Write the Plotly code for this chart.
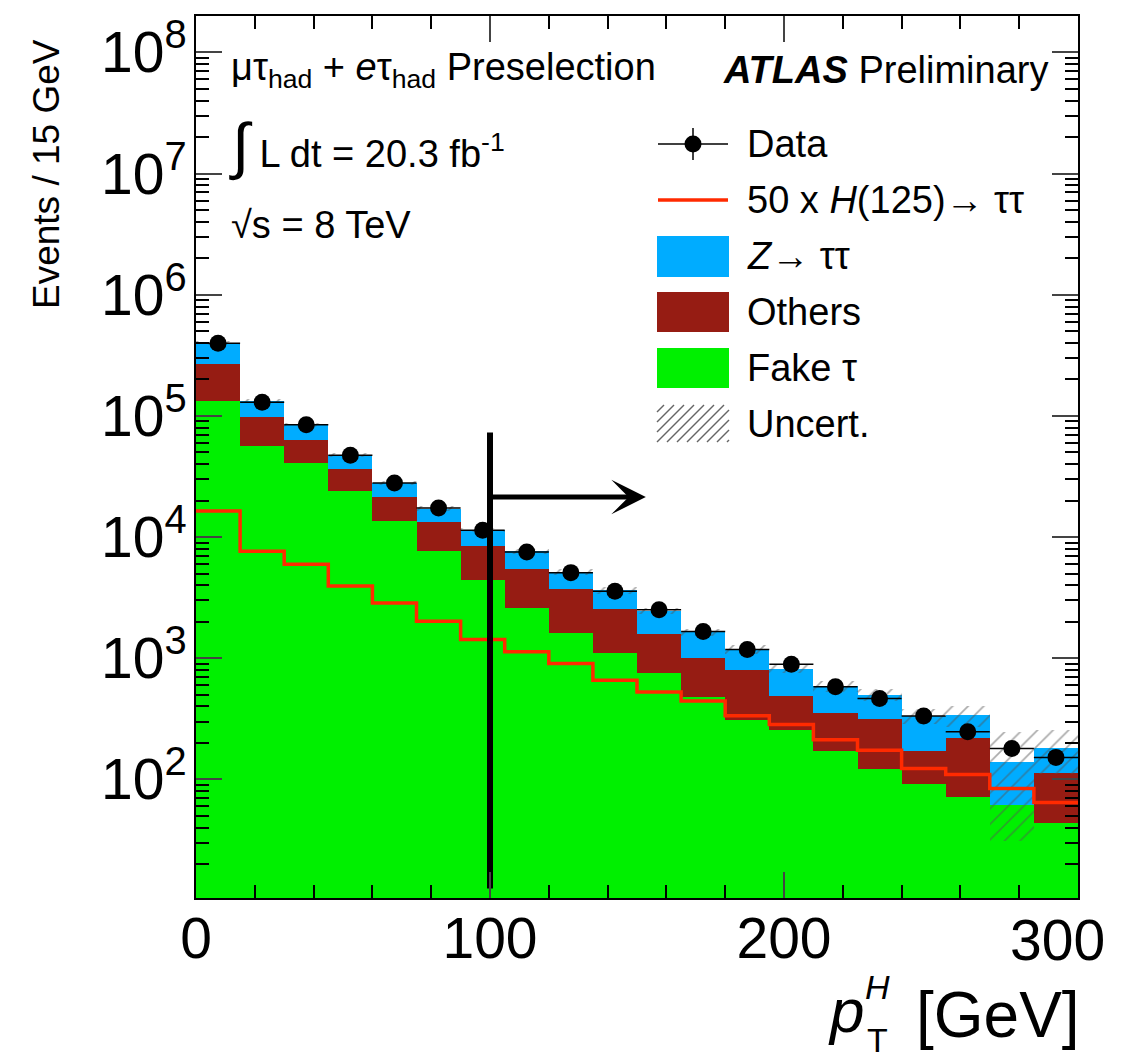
import numpy as np
import plotly.graph_objects as go

# ---------------- data ----------------
BIN_WIDTH = 15
bin_low = list(range(0, 300, BIN_WIDTH))          # 20 bins, 0..300 GeV

fake_tau = [1.33e5, 5.61e4, 4.09e4, 2.40e4, 1.35e4, 7.63e3, 4.46e3, 2.60e3, 1.62e3, 1.11e3,
            762, 480, 310, 258, 171, 123, 90.8, 71.7, 61.2, 43.3]
others = [1.37e5, 4.12e4, 2.20e4, 1.23e4, 7.9e3, 5.57e3, 4.05e3, 2.82e3, 2.14e3, 1.43e3,
          838, 520, 486, 231, 179, 191, 81, 148, 0.0, 70]
z_tautau = [1.33e5, 3.47e4, 2.18e4, 1.10e4, 6.8e3, 4.0e3, 2.89e3, 2.21e3, 1.43e3, 1.10e3,
            860, 640, 384, 333, 240, 187, 162, 119, 78, 70]
higgs_x50 = [1.64e4, 7.63e3, 5.97e3, 3.95e3, 2.86e3, 2.02e3, 1.43e3, 1.13e3, 904, 658,
             527, 444, 335, 284, 213, 174, 123, 110, 84, 64.5]
data = [3.98e5, 1.30e5, 8.47e4, 4.73e4, 2.80e4, 1.74e4, 1.14e4, 7.53e3, 5.09e3, 3.57e3,
        2.51e3, 1.66e3, 1.18e3, 892, 581, 465, 334, 247, 180, 152]
uncert = [1.6e4, 5.3e3, 3.4e3, 1.9e3, 1.1e3, 7.0e2, 4.6e2, 3.1e2, 3.1e2, 2.2e2,
          1.5e2, 1.0e2, 95, 66, 59, 60, 47, 68, 108, 72]

x_tick_vals = [0, 100, 200, 300]
x_tick_text = ["0", "100", "200", ""]      # the last label is drawn shifted inside the frame
last_x_label = "300"

cut_value = 100          # pT^H > 100 GeV selection
cut_line_y = [12.6, 7.3e4]
cut_arrow_y = 2.14e4
cut_arrow_end = 153.0

# ---------------- styling ----------------
BLUE = "#00acff"
BROWN = "#961c13"
GREEN = "#00f000"
RED = "#ff2a00"
FONT = "Liberation Sans, Arial, Helvetica, sans-serif"

x_centers = [lo + BIN_WIDTH / 2 for lo in bin_low]
edges = bin_low + [bin_low[-1] + BIN_WIDTH]
cum_others = [f + o for f, o in zip(fake_tau, others)]
total = [c + z for c, z in zip(cum_others, z_tautau)]

fig = go.Figure()
fig.add_bar(x=x_centers, y=total, width=BIN_WIDTH, marker=dict(color=BLUE, line_width=0),
            name="Z→ττ", showlegend=False)
fig.add_bar(x=x_centers, y=cum_others, width=BIN_WIDTH, marker=dict(color=BROWN, line_width=0),
            name="Others", showlegend=False)
fig.add_bar(x=x_centers, y=fake_tau, width=BIN_WIDTH, marker=dict(color=GREEN, line_width=0),
            name="Fake τ", showlegend=False)
fig.add_scatter(x=edges, y=higgs_x50 + [higgs_x50[-1]], mode="lines", line_shape="hv",
                line=dict(color=RED, width=3.5), name="50 x H(125)→ττ", showlegend=False)
fig.add_bar(x=x_centers, y=[2 * e for e in uncert], base=[t - e for t, e in zip(total, uncert)],
            width=BIN_WIDTH,
            marker=dict(color="rgba(0,0,0,0)", line_width=0,
                        pattern=dict(shape="/", fgcolor="#555555", bgcolor="rgba(0,0,0,0)",
                                     size=11, solidity=0.15)),
            name="Uncert.", showlegend=False)
fig.add_scatter(x=x_centers, y=data, mode="markers",
                marker=dict(color="black", size=17),
                error_x=dict(type="constant", value=BIN_WIDTH / 2, width=0, thickness=1.5, color="black"),
                error_y=dict(type="data", array=list(np.sqrt(data)), width=0, thickness=1.5, color="black"),
                name="Data", showlegend=False)
# cut line
fig.add_scatter(x=[cut_value, cut_value], y=cut_line_y, mode="lines",
                line=dict(color="black", width=6), showlegend=False, hoverinfo="skip")

# ---------------- layout ----------------
L, R, T, B = 196, 1078, 16, 898
W, H = 1124, 1058
PW, PH = R - L, B - T


def px(xp):
    return (xp - L) / PW


def py(yp):
    return (B - yp) / PH


minor_vals = [k * 10 ** n for n in range(1, 9) for k in range(2, 10)]

fig.update_layout(
    width=W, height=H, margin=dict(l=L, r=W - R, t=T, b=H - B),
    paper_bgcolor="white", plot_bgcolor="white",
    barmode="overlay", bargap=0,
    font=dict(family=FONT, color="black", size=38),
    showlegend=False,
    xaxis=dict(range=[0, 300], showgrid=False, zeroline=False, showline=True, linecolor="black",
               linewidth=2, mirror="ticks", ticks="inside", ticklen=26, tickwidth=2,
               automargin=False,
               tickvals=x_tick_vals, ticktext=x_tick_text,
               tickfont=dict(size=57), ticklabelstandoff=-10,
               minor=dict(ticks="inside", ticklen=13, tickwidth=1.5, dtick=20, tick0=0,
                          tickcolor="black")),
    yaxis=dict(type="log", range=[np.log10(10.5), np.log10(2.0e8)], showgrid=False, zeroline=False,
               showline=True, linecolor="black", linewidth=2, mirror="ticks", ticks="inside",
               ticklen=26, tickwidth=2, automargin=False,
               tickvals=[10 ** n for n in range(2, 9)],
               ticktext=["10<sup>%d</sup>" % n for n in range(2, 9)],
               tickfont=dict(size=57), ticklabelstandoff=-4,
               minor=dict(ticks="inside", ticklen=13, tickwidth=1.5, tickvals=minor_vals,
                          tickcolor="black")),
)

ann = []
# cut arrow (data coordinates; log axis needs log10 values)
ann.append(dict(x=cut_arrow_end, y=float(np.log10(cut_arrow_y)), ax=cut_value,
                ay=float(np.log10(cut_arrow_y)), xref="x", yref="y", axref="x", ayref="y",
                text="", showarrow=True, arrowhead=3, arrowwidth=5, arrowsize=1.15,
                arrowcolor="black"))
# last x tick label, shifted inside like the reference
ann.append(dict(x=px(1057), y=py(940), xref="paper", yref="paper", text=last_x_label,
                xanchor="center", yanchor="middle", showarrow=False, font=dict(size=57)))
# y-axis title
ann.append(dict(x=px(46), y=py(37), xref="paper", yref="paper", text="Events / 15 GeV",
                textangle=-90, xanchor="center", yanchor="top", showarrow=False,
                font=dict(size=37)))
# x-axis title
ann.append(dict(x=px(1082), y=py(1015), xref="paper", yref="paper", text="[GeV]",
                xanchor="right", yanchor="middle", showarrow=False, font=dict(size=64)))
ann.append(dict(x=px(866), y=py(1010), xref="paper", yref="paper", text="<i>p</i>",
                xanchor="right", yanchor="middle", showarrow=False, font=dict(size=62)))
ann.append(dict(x=px(863), y=py(987), xref="paper", yref="paper", text="<i>H</i>",
                xanchor="left", yanchor="middle", showarrow=False, font=dict(size=34)))
ann.append(dict(x=px(865), y=py(1040), xref="paper", yref="paper", text="T",
                xanchor="left", yanchor="middle", showarrow=False, font=dict(size=34)))

# in-plot labels
ann.append(dict(x=px(229), y=py(70), xref="paper", yref="paper",
                text="μτ<sub>had</sub> + <i>e</i>τ<sub>had</sub> Preselection",
                xanchor="left", yanchor="middle", showarrow=False))
ann.append(dict(x=px(227), y=py(146), xref="paper", yref="paper",
                text="<span style=\"font-size:62px\">∫</span> L dt = 20.3 fb<sup>-1</sup>",
                xanchor="left", yanchor="middle", showarrow=False))
ann.append(dict(x=px(229), y=py(225), xref="paper", yref="paper",
                text="√s = 8 TeV",
                xanchor="left", yanchor="middle", showarrow=False))
ann.append(dict(x=px(1050), y=py(70), xref="paper", yref="paper",
                text="<b><i>ATLAS</i></b> Preliminary",
                xanchor="right", yanchor="middle", showarrow=False))

# manual legend
LX0, LX1, TX = 657, 729, 745
leg_text = [(144, "Data"), (200, "50 x <i>H</i>(125)→ ττ"), (256, "<i>Z</i>→ ττ"),
            (312, "Others"), (368, "Fake τ"), (424, "Uncert.")]
for yy, t in leg_text:
    ann.append(dict(x=px(TX), y=py(yy), xref="paper", yref="paper", text=t,
                    xanchor="left", yanchor="middle", showarrow=False))

shapes = []
# Data entry
shapes.append(dict(type="line", xref="paper", yref="paper", x0=px(658), x1=px(728), y0=py(144), y1=py(144),
                   line=dict(color="black", width=1.5)))
shapes.append(dict(type="line", xref="paper", yref="paper", x0=px(693), x1=px(693), y0=py(128), y1=py(160),
                   line=dict(color="black", width=1.5)))
shapes.append(dict(type="circle", xref="paper", yref="paper", x0=px(684.5), x1=px(701.5),
                   y0=py(152.5), y1=py(135.5), fillcolor="black", line=dict(color="black", width=0)))
# Higgs entry
shapes.append(dict(type="line", xref="paper", yref="paper", x0=px(658), x1=px(728), y0=py(200), y1=py(200),
                   line=dict(color=RED, width=3.5)))
# boxes
for (y0, y1, c) in [(236, 277, BLUE), (292, 332, BROWN), (348, 388, GREEN)]:
    shapes.append(dict(type="rect", xref="paper", yref="paper", x0=px(LX0), x1=px(LX1),
                       y0=py(y1), y1=py(y0), fillcolor=c, line=dict(width=0)))
# hatched uncertainty entry
hy0, hy1 = 405, 442
for k in range(-4, 8):
    xa = LX0 + k * 10
    xb = xa + (hy1 - hy0)
    x_start, y_start = xa, hy1
    x_end, y_end = xb, hy0
    if x_start < LX0:
        y_start = hy1 - (LX0 - x_start)
        x_start = LX0
    if x_end > LX1:
        y_end = hy0 + (x_end - LX1)
        x_end = LX1
    if x_start >= x_end:
        continue
    shapes.append(dict(type="line", xref="paper", yref="paper", x0=px(x_start), x1=px(x_end),
                       y0=py(y_start), y1=py(y_end), line=dict(color="#666666", width=1.5)))

fig.update_layout(annotations=ann, shapes=shapes)
fig.write_html("out.html")
